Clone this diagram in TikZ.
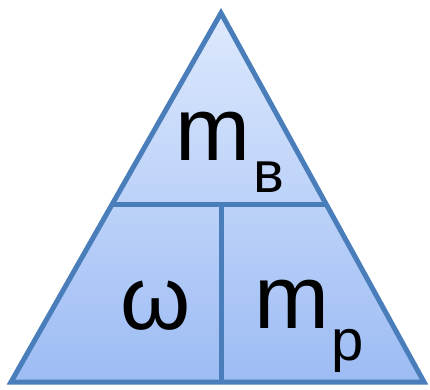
\documentclass[tikz,border=0pt]{standalone}
\usepackage{fontspec}
\setmainfont{Liberation Sans}
\usetikzlibrary{calc}

\definecolor{edgeblue}{HTML}{4A7EBB}
\definecolor{filltop}{HTML}{DDE9FD}
\definecolor{fillbottom}{HTML}{9DBCF4}

\tikzset{
    big/.style={font=\fontsize{90}{90}\selectfont, inner sep=0pt, anchor=base west},
    sub/.style={font=\fontsize{58}{58}\selectfont, inner sep=0pt, anchor=base west},
    edge/.style={edgeblue, line width=5pt, line join=miter}
}

\begin{document}
\begin{tikzpicture}[x=1pt, y=-1pt]
    \useasboundingbox (0,0) rectangle (430,389);

    % Triangle corners
    \coordinate (apex) at (221,13);
    \coordinate (left) at (11,382);
    \coordinate (right) at (424,382);
    \coordinate (midl) at ($(apex)!0.5203!(left)$);
    \coordinate (midr) at ($(apex)!0.5203!(right)$);
    \coordinate (midc) at (221,205);
    \coordinate (basec) at (221,382);

    % Fill and divisions
    \shade[top color=filltop, bottom color=fillbottom] (apex) -- (right) -- (left) -- cycle;
    \draw[edge] (midl) -- (midr);
    \draw[edge] (midc) -- (basec);
    \draw[edge] (apex) -- (right) -- (left) -- cycle;

    % Labels
    \node[big] (mB) at (175,160) {m};
    \node[sub] (subB) at (253,192) {в};
    \node[big] (omega) at (120,329) {ω};
    \node[big] (mP) at (254,328) {m};
    \node[sub] (subP) at (331,360) {р};
\end{tikzpicture}
\end{document}
